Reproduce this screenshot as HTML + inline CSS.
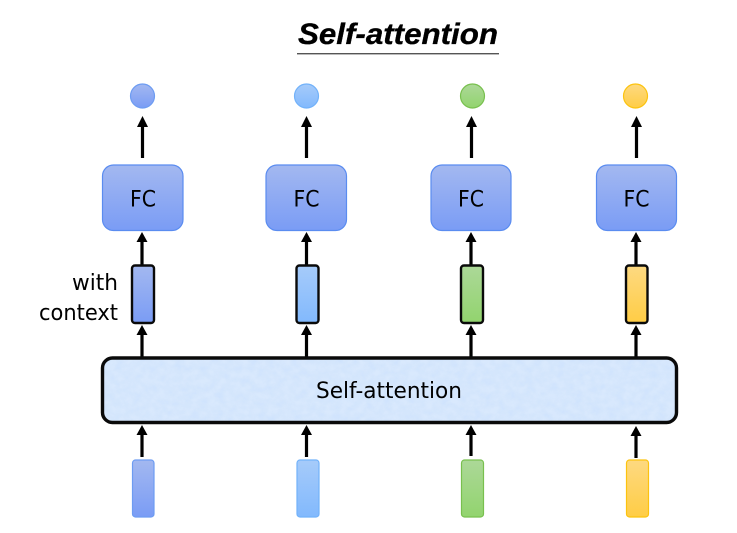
<!DOCTYPE html>
<html>
<head>
<meta charset="utf-8">
<style>
html,body{margin:0;padding:0;background:#fff;}
svg{display:block;}
text{font-family:"DejaVu Sans","Liberation Sans",sans-serif;fill:#000;}
text.t{font-family:"Liberation Sans",sans-serif;stroke:#000;stroke-width:.35;}
</style>
</head>
<body>
<svg width="737" height="533" viewBox="0 0 737 533" xmlns="http://www.w3.org/2000/svg">
<defs>
<linearGradient id="b" x1="0" y1="0" x2="0" y2="1"><stop offset="0" stop-color="#a3b8f0"/><stop offset="1" stop-color="#7a9cf5"/></linearGradient>
<linearGradient id="l" x1="0" y1="0" x2="0" y2="1"><stop offset="0" stop-color="#a6cbfa"/><stop offset="1" stop-color="#82b9fd"/></linearGradient>
<linearGradient id="g" x1="0" y1="0" x2="0" y2="1"><stop offset="0" stop-color="#acd898"/><stop offset="1" stop-color="#92d46e"/></linearGradient>
<linearGradient id="y" x1="0" y1="0" x2="0" y2="1"><stop offset="0" stop-color="#fdd981"/><stop offset="1" stop-color="#ffcd45"/></linearGradient>
<filter id="n" x="0" y="0" width="100%" height="100%" color-interpolation-filters="sRGB">
<feTurbulence type="fractalNoise" baseFrequency="0.12 0.14" numOctaves="4" seed="7"/>
<feColorMatrix type="matrix" values="0 0 0 0 0.78  0 0 0 0 0.87  0 0 0 0 0.99  0.9 0 0 0 -0.25"/>
<feComposite in2="SourceGraphic" operator="in"/>
<feMerge><feMergeNode in="SourceGraphic"/><feMergeNode/></feMerge>
</filter>
</defs>

<text class="t" x="398" y="44" font-size="30" font-weight="bold" font-style="italic" text-anchor="middle" textLength="200" lengthAdjust="spacingAndGlyphs">Self-attention</text>
<rect x="297" y="53" width="202" height="1.4" fill="#555"/>

<!-- circles -->
<circle cx="142.5" cy="96" r="12" fill="url(#b)" stroke="#6d9cf2" stroke-width="1.2"/>
<circle cx="306.5" cy="96" r="12" fill="url(#l)" stroke="#72b2fa" stroke-width="1.2"/>
<circle cx="472.5" cy="96" r="12" fill="url(#g)" stroke="#78c04e" stroke-width="1.2"/>
<circle cx="635.5" cy="96" r="12" fill="url(#y)" stroke="#fcc30f" stroke-width="1.2"/>

<!-- FC -->
<g stroke="#5a8cf0" stroke-width="1.2" fill="url(#b)">
<rect x="102.5" y="165" width="80.5" height="65.5" rx="11"/>
<rect x="266" y="165" width="80.5" height="65.5" rx="11"/>
<rect x="431" y="165" width="80" height="65.5" rx="11"/>
<rect x="596.5" y="165" width="80" height="65.5" rx="11"/>
</g>
<g font-size="22.5" text-anchor="middle">
<text x="143" y="206.5" textLength="26" lengthAdjust="spacingAndGlyphs">FC</text>
<text x="306.5" y="206.5" textLength="26" lengthAdjust="spacingAndGlyphs">FC</text>
<text x="471" y="206.5" textLength="26" lengthAdjust="spacingAndGlyphs">FC</text>
<text x="636.5" y="206.5" textLength="26" lengthAdjust="spacingAndGlyphs">FC</text>
</g>

<!-- arrows -->
<g stroke="#000" stroke-width="3.2" fill="none">
<path d="M142.5 158V125M306.5 158V125M471.5 158V125M636.5 158V125"/>
<path d="M142 265V241M306.5 265V241M471 265V241M636 265V241"/>
<path d="M142 358V332M306.5 358V332M471 358V332M636 358V332"/>
<path d="M142 457V431M306.5 457V431M471 456V431M636 458V432"/>
</g>
<g fill="#000">
<path d="M142.5 116l-5.5 11h11zM306.5 116l-5.5 11h11zM471.5 116l-5.5 11h11zM636.5 116l-5.5 11h11z"/>
<path d="M142 232l-5.5 10h11zM306.5 232l-5.5 10h11zM471 232l-5.5 10h11zM636 232l-5.5 10h11z"/>
<path d="M142 325l-5.5 10h11zM306.5 325l-5.5 10h11zM471 325l-5.5 10h11zM636 325l-5.5 10h11z"/>
<path d="M142 425l-5.5 10h11zM306.5 425l-5.5 10h11zM471 425l-5.5 10h11zM636 426l-5.5 10h11z"/>
</g>

<!-- context bars -->
<g stroke="#0a0a0a" stroke-width="2.4">
<rect x="132" y="265.5" width="22" height="57.5" rx="3" fill="url(#b)"/>
<rect x="296.5" y="265.5" width="22" height="57.5" rx="3" fill="url(#l)"/>
<rect x="461" y="265.5" width="22" height="57.5" rx="3" fill="url(#g)"/>
<rect x="626" y="265.5" width="21.5" height="57.5" rx="3" fill="url(#y)"/>
</g>
<text x="118" y="290" font-size="22.5" text-anchor="end" textLength="46" lengthAdjust="spacingAndGlyphs">with</text>
<text x="118" y="320" font-size="22.5" text-anchor="end" textLength="79" lengthAdjust="spacingAndGlyphs">context</text>

<!-- self attention -->
<rect x="102.5" y="358" width="574" height="64.5" rx="10" fill="#d9e9fd" filter="url(#n)"/>
<rect x="102.5" y="358" width="574" height="64.5" rx="10" fill="none" stroke="#0a0a0a" stroke-width="3.4"/>
<text x="389" y="398" font-size="22.5" text-anchor="middle" textLength="146" lengthAdjust="spacingAndGlyphs">Self-attention</text>

<!-- inputs -->
<rect x="132.5" y="460" width="21.5" height="57" rx="3" fill="url(#b)" stroke="#6d9cf2" stroke-width="1.2"/>
<rect x="297" y="460" width="22" height="57" rx="3" fill="url(#l)" stroke="#72b2fa" stroke-width="1.2"/>
<rect x="461.5" y="460" width="22" height="57" rx="3" fill="url(#g)" stroke="#78c04e" stroke-width="1.2"/>
<rect x="626.5" y="460" width="22" height="57" rx="3" fill="url(#y)" stroke="#fcc30f" stroke-width="1.2"/>
</svg>
</body>
</html>
